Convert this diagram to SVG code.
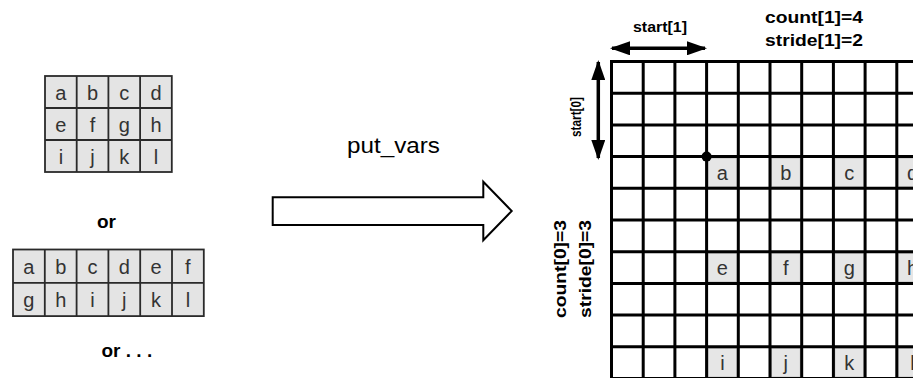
<svg xmlns="http://www.w3.org/2000/svg" width="913" height="378" viewBox="0 0 913 378">
<style>
.cell{fill:#e4e4e4;stroke:#2a2a2a;stroke-width:1.8}
.ltr{font-family:"Liberation Sans",Arial,sans-serif;font-size:20px;fill:#333;text-anchor:middle}
.lbl{font-family:"Liberation Sans",Arial,sans-serif;font-weight:bold;fill:#000}
.grid{stroke:#000;stroke-width:3;fill:none}
.gcell{fill:#e6e6e6;stroke:#bbb;stroke-width:1}
.dbl{stroke:#000;stroke-width:3.5;fill:none;marker-start:url(#ah);marker-end:url(#ah)}
</style>
<defs>
<marker id="ah" viewBox="0 0 20 14" refX="18" refY="7" markerWidth="20" markerHeight="14" markerUnits="userSpaceOnUse" orient="auto-start-reverse">
<path d="M0,0 L20,7 L0,14 Z" fill="#000"/>
</marker>
</defs>

<g id="table1">
<rect class="cell" x="45" y="76" width="126.8" height="96"/>
<path d="M76.7,76V172M108.4,76V172M140.1,76V172M45,108H171.8M45,140H171.8" stroke="#2a2a2a" stroke-width="1.8"/>
<text class="ltr" x="60.9" y="100">a</text><text class="ltr" x="92.6" y="100">b</text><text class="ltr" x="124.3" y="100">c</text><text class="ltr" x="156" y="100">d</text>
<text class="ltr" x="60.9" y="132">e</text><text class="ltr" x="92.6" y="132">f</text><text class="ltr" x="124.3" y="132">g</text><text class="ltr" x="156" y="132">h</text>
<text class="ltr" x="60.9" y="164">i</text><text class="ltr" x="92.6" y="164">j</text><text class="ltr" x="124.3" y="164">k</text><text class="ltr" x="156" y="164">l</text>
</g>

<g id="or1"><text class="lbl" x="97" y="228" font-size="19">or</text></g>

<g id="table2">
<rect class="cell" x="13" y="249.5" width="190.8" height="66.6"/>
<path d="M44.8,249.5V316.1M76.6,249.5V316.1M108.4,249.5V316.1M140.2,249.5V316.1M172,249.5V316.1M13,282.8H203.8" stroke="#2a2a2a" stroke-width="1.8"/>
<text class="ltr" x="28.9" y="274">a</text><text class="ltr" x="60.7" y="274">b</text><text class="ltr" x="92.5" y="274">c</text><text class="ltr" x="124.3" y="274">d</text><text class="ltr" x="156.1" y="274">e</text><text class="ltr" x="187.9" y="274">f</text>
<text class="ltr" x="28.9" y="307">g</text><text class="ltr" x="60.7" y="307">h</text><text class="ltr" x="92.5" y="307">i</text><text class="ltr" x="124.3" y="307">j</text><text class="ltr" x="156.1" y="307">k</text><text class="ltr" x="187.9" y="307">l</text>
</g>

<g id="or2"><text class="lbl" x="101.5" y="357" font-size="19">or . . .</text></g>

<g id="put_vars">
<text x="393.5" y="153" font-family="'Liberation Sans',Arial,sans-serif" font-size="22" text-anchor="middle" textLength="93" lengthAdjust="spacingAndGlyphs">put_vars</text>
<polygon points="272.7,197.3 483.3,197.3 483.3,181.7 511.7,211 483.3,240.3 483.3,225 272.7,225" fill="#fff" stroke="#000" stroke-width="2"/>
</g>

<g id="grid">
<rect class="gcell" x="708" y="158" width="28.9" height="28.9"/>
<rect class="gcell" x="771.4" y="158" width="28.9" height="28.9"/>
<rect class="gcell" x="834.8" y="158" width="28.9" height="28.9"/>
<rect class="gcell" x="898.2" y="158" width="28.9" height="28.9"/>
<rect class="gcell" x="708" y="253.1" width="28.9" height="28.9"/>
<rect class="gcell" x="771.4" y="253.1" width="28.9" height="28.9"/>
<rect class="gcell" x="834.8" y="253.1" width="28.9" height="28.9"/>
<rect class="gcell" x="898.2" y="253.1" width="28.9" height="28.9"/>
<rect class="gcell" x="708" y="348.2" width="28.9" height="28.9"/>
<rect class="gcell" x="771.4" y="348.2" width="28.9" height="28.9"/>
<rect class="gcell" x="834.8" y="348.2" width="28.9" height="28.9"/>
<rect class="gcell" x="898.2" y="348.2" width="28.9" height="28.9"/>
<path class="grid" d="M611.5,60V380M643.2,60V380M674.9,60V380M706.6,60V380M738.3,60V380M770,60V380M801.7,60V380M833.4,60V380M865.1,60V380M896.8,60V380
M610,61.5H913M610,93.2H913M610,124.9H913M610,156.6H913M610,188.3H913M610,220H913M610,251.7H913M610,283.4H913M610,315.1H913M610,346.8H913M610,378.5H913"/>
<text class="ltr" x="722.4" y="180">a</text><text class="ltr" x="785.8" y="180">b</text><text class="ltr" x="849.2" y="180">c</text><text class="ltr" x="912.6" y="180">d</text>
<text class="ltr" x="722.4" y="275">e</text><text class="ltr" x="785.8" y="275">f</text><text class="ltr" x="849.2" y="275">g</text><text class="ltr" x="912.6" y="275">h</text>
<text class="ltr" x="722.4" y="370">i</text><text class="ltr" x="785.8" y="370">j</text><text class="ltr" x="849.2" y="370">k</text><text class="ltr" x="912.6" y="370">l</text>
<circle cx="706.6" cy="156.6" r="5" fill="#000"/>
</g>

<g id="connectors">
<path class="dbl" d="M612,48.3H705"/>
<path class="dbl" d="M598.3,62V158"/>
</g>

<g id="labels">
<text class="lbl" x="660" y="32" font-size="15" text-anchor="middle" textLength="54" lengthAdjust="spacingAndGlyphs">start[1]</text>
<text class="lbl" transform="translate(581,117) rotate(-90)" font-size="15" text-anchor="middle" textLength="40" lengthAdjust="spacingAndGlyphs">start[0]</text>
<text class="lbl" x="814" y="23" font-size="17" text-anchor="middle" textLength="98" lengthAdjust="spacingAndGlyphs">count[1]=4</text>
<text class="lbl" x="814" y="46" font-size="17" text-anchor="middle" textLength="98" lengthAdjust="spacingAndGlyphs">stride[1]=2</text>
<text class="lbl" transform="translate(566,269) rotate(-90)" font-size="17" text-anchor="middle" textLength="98" lengthAdjust="spacingAndGlyphs">count[0]=3</text>
<text class="lbl" transform="translate(591,269) rotate(-90)" font-size="17" text-anchor="middle" textLength="98" lengthAdjust="spacingAndGlyphs">stride[0]=3</text>
</g>
</svg>
